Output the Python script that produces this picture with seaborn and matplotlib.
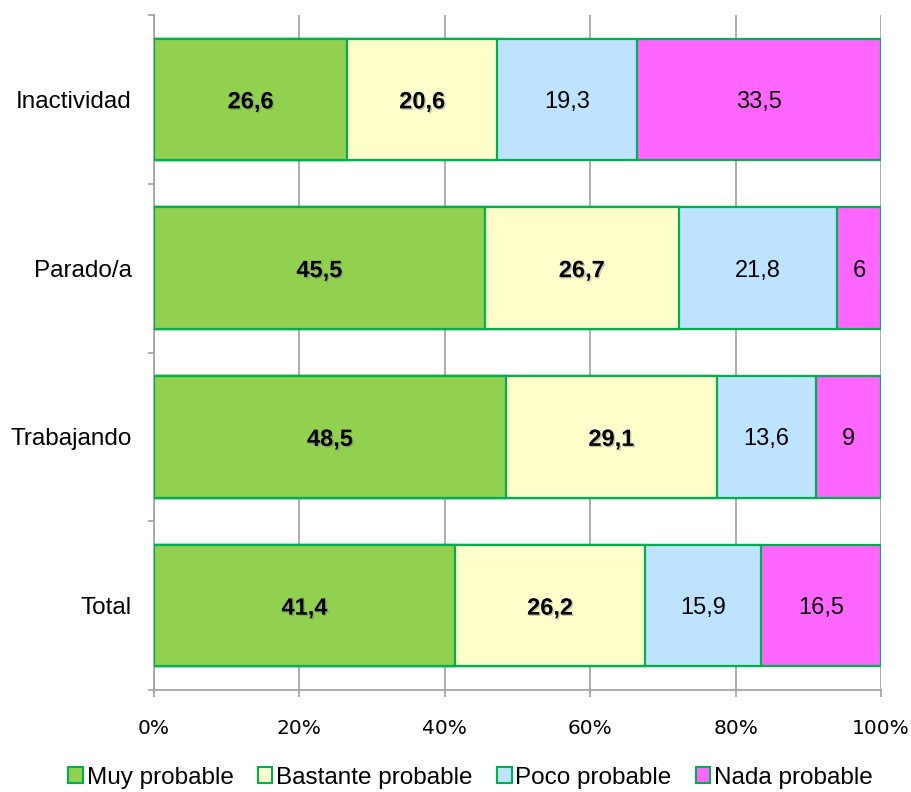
import matplotlib
matplotlib.use("Agg")
import matplotlib.pyplot as plt
import matplotlib.patheffects as pe
from matplotlib.patches import Patch
import seaborn as sns
import numpy as np

categories = ["Inactividad", "Parado/a", "Trabajando", "Total"]
series_names = ["Muy probable", "Bastante probable", "Poco probable", "Nada probable"]
muy = [26.6, 45.5, 48.5, 41.4]
bastante = [20.6, 26.7, 29.1, 26.2]
poco = [19.3, 21.8, 13.6, 15.9]
nada = [33.5, 6, 9, 16.5]
xtick_labels = ["0%", "20%", "40%", "60%", "80%", "100%"]

colors = ["#92D050", "#FFFFCC", "#BDE3FF", "#FF66FF"]
edge = "#00B050"

sns.set_theme(style="white")
plt.rcParams["font.family"] = ["Liberation Sans", "DejaVu Sans"]
plt.rcParams["text.color"] = "black"

raw = np.array([muy, bastante, poco, nada], dtype=float)
pct = raw / raw.sum(axis=0) * 100
cum = np.cumsum(pct, axis=0)

fig = plt.figure(figsize=(9.12, 7.92), dpi=100)
ax = fig.add_axes([154 / 912, 1 - 690 / 792, (881 - 154) / 912, 675 / 792])

for i in range(3, -1, -1):
    sns.barplot(x=cum[i], y=categories, orient="h", color=colors[i], width=0.72,
                edgecolor=edge, linewidth=1.6, ax=ax, zorder=3, saturation=1)

shadow = [pe.SimplePatchShadow(offset=(1.0, -1.0), shadow_rgbFace="#666666", alpha=0.35), pe.Normal()]
for i in range(4):
    for j in range(len(categories)):
        start = cum[i - 1][j] if i > 0 else 0
        center = (start + cum[i][j]) / 2
        label = f"{raw[i][j]:g}".replace(".", ",")
        if i < 2:
            ax.text(center, j, label, ha="center", va="center_baseline", fontsize=17,
                    fontweight="bold", color="black", path_effects=shadow, zorder=5)
        else:
            ax.text(center, j, label, ha="center", va="center_baseline", fontsize=17,
                    color="black", zorder=5)

ax.set_xlim(0, 100)
ax.set_ylim(3.5, -0.5)
ax.set_xticks([0, 20, 40, 60, 80, 100])
ax.set_xticklabels(xtick_labels, fontsize=14.5, family=["DejaVu Sans"])
ax.set_ylabel("")
ax.set_xlabel("")
ax.tick_params(axis="y", labelsize=17.5, length=0, pad=16, labelcolor="black")
ax.tick_params(axis="x", length=5, width=1.2, color="#A0A0A0", direction="out", bottom=True, pad=16,
               labelcolor="black")
for t in ax.get_yticklabels():
    t.set_verticalalignment("center_baseline")

# category boundary ticks on y axis
ax.set_yticks([-0.5, 0.5, 1.5, 2.5, 3.5], minor=True)
ax.tick_params(axis="y", which="minor", length=4.5, width=1.2, color="#A0A0A0", direction="out", left=True)

ax.grid(axis="x", color="#A0A0A0", linewidth=1.2, zorder=0)
ax.set_axisbelow(True)
for s in ["top", "right"]:
    ax.spines[s].set_visible(False)
for s in ["left", "bottom"]:
    ax.spines[s].set_color("#A0A0A0")
    ax.spines[s].set_linewidth(1.2)

handles = [Patch(facecolor=c, edgecolor=edge, linewidth=1.5) for c in colors]
leg = fig.legend(handles, series_names, loc="center", bbox_to_anchor=(0.516, 0.018), ncol=4,
                 frameon=False, handlelength=0.6, handleheight=0.6,
                 handletextpad=0.15, columnspacing=1.0,
                 prop={"family": ["Liberation Sans", "DejaVu Sans"], "size": 17.5})
for t in leg.get_texts():
    t.set_color("black")

fig.savefig("out.png", dpi=100)
